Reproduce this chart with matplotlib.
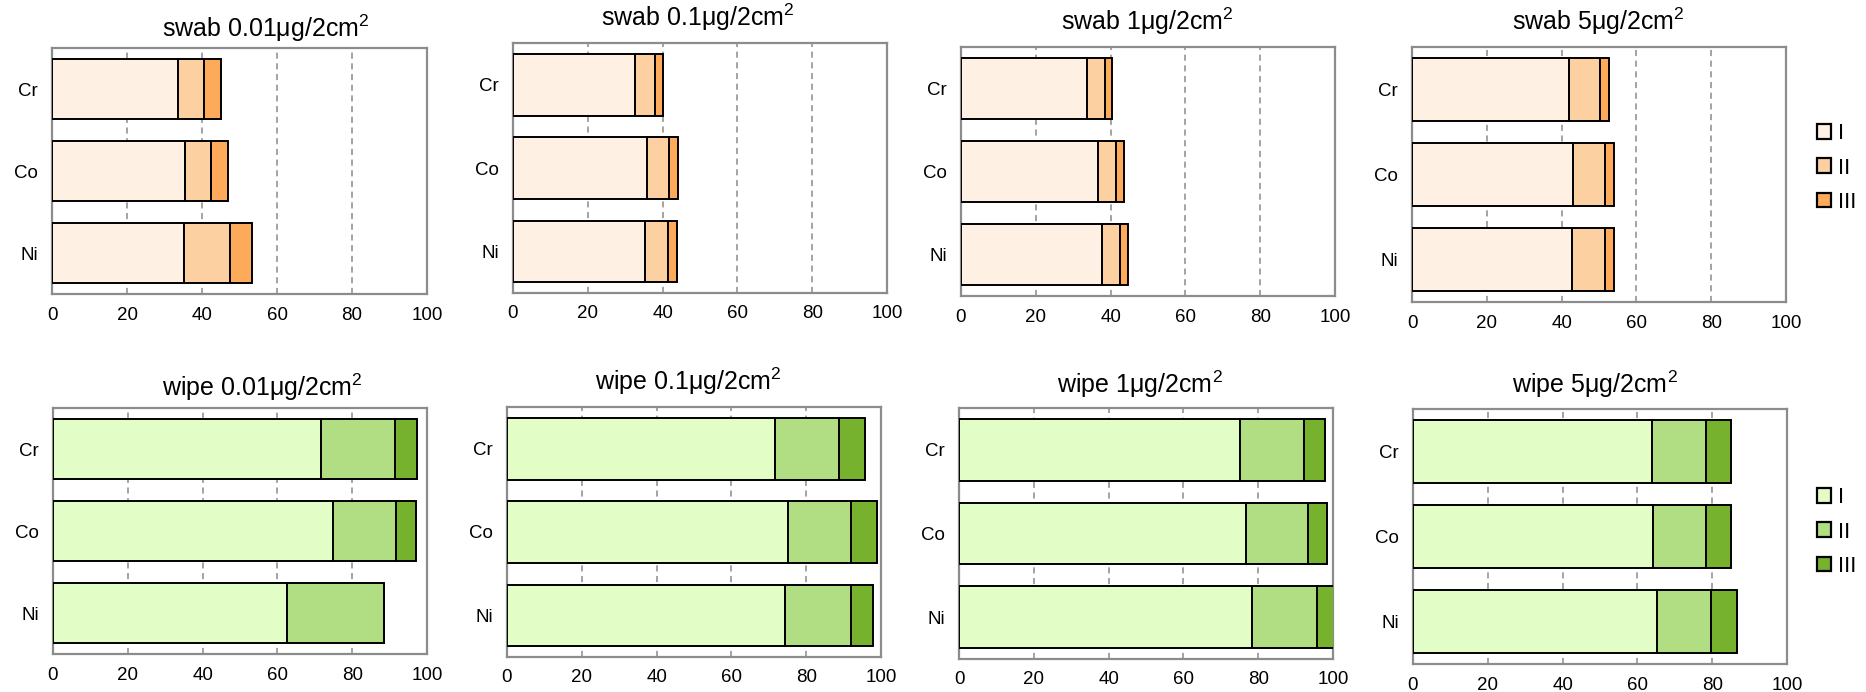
import numpy as np
import matplotlib
matplotlib.use("Agg")
import matplotlib.pyplot as plt
from matplotlib.patches import Patch

plt.rcParams['font.family'] = ['Liberation Sans', 'DejaVu Sans']
plt.rcParams['mathtext.fontset'] = 'custom'
plt.rcParams['mathtext.rm'] = 'Liberation Sans'
plt.rcParams['mathtext.it'] = 'Liberation Sans'

# Data (percent), rows: Cr, Co, Ni
metals = ['Cr', 'Co', 'Ni']
fractions = ['I', 'II', 'III']
titles = ['swab 0.01μg/2cm$^{2}$', 'swab 0.1μg/2cm$^{2}$', 'swab 1μg/2cm$^{2}$', 'swab 5μg/2cm$^{2}$',
          'wipe 0.01μg/2cm$^{2}$', 'wipe 0.1μg/2cm$^{2}$', 'wipe 1μg/2cm$^{2}$', 'wipe 5μg/2cm$^{2}$']

swab_001_I = [33.7, 35.4, 35.2]
swab_001_II = [6.9, 6.9, 12.3]
swab_001_III = [4.4, 4.6, 5.7]

swab_01_I = [32.7, 35.9, 35.4]
swab_01_II = [5.2, 5.7, 6.0]
swab_01_III = [2.1, 2.4, 2.4]

swab_1_I = [33.8, 36.6, 37.6]
swab_1_II = [4.6, 4.8, 4.9]
swab_1_III = [2.1, 2.1, 2.1]

swab_5_I = [42.1, 43.0, 42.8]
swab_5_II = [8.2, 8.5, 8.7]
swab_5_III = [2.3, 2.6, 2.6]

wipe_001_I = [71.7, 74.9, 62.7]
wipe_001_II = [19.7, 16.7, 25.7]
wipe_001_III = [5.9, 5.5, 0.0]

wipe_01_I = [71.7, 75.0, 74.4]
wipe_01_II = [17.0, 16.9, 17.5]
wipe_01_III = [7.1, 7.0, 6.0]

wipe_1_I = [75.2, 76.8, 78.4]
wipe_1_II = [17.1, 16.4, 17.2]
wipe_1_III = [5.6, 5.1, 4.6]

wipe_5_I = [63.8, 64.1, 65.2]
wipe_5_II = [14.5, 14.2, 14.4]
wipe_5_III = [6.8, 6.8, 6.9]

panels = [
    (swab_001_I, swab_001_II, swab_001_III),
    (swab_01_I, swab_01_II, swab_01_III),
    (swab_1_I, swab_1_II, swab_1_III),
    (swab_5_I, swab_5_II, swab_5_III),
    (wipe_001_I, wipe_001_II, wipe_001_III),
    (wipe_01_I, wipe_01_II, wipe_01_III),
    (wipe_1_I, wipe_1_II, wipe_1_III),
    (wipe_5_I, wipe_5_II, wipe_5_III),
]

swab_colors = ['#fef0e2', '#fdd0a2', '#fdab5a']
wipe_colors = ['#e2fdc5', '#b2de83', '#77b22f']

# axes boxes in pixels: left, top, right, bottom
W, H = 1866, 692
boxes = [(52, 48, 427, 294), (513, 43, 887, 293), (961, 47, 1335, 296), (1412, 47, 1786, 302),
         (53, 408, 427, 654), (507, 407, 881, 657), (959, 408, 1333, 659), (1413, 409, 1787, 664)]
# title anchor (center x, baseline y) in pixels
title_pos = [(266, 37), (698, 26), (1147, 30), (1598, 30),
             (262, 396), (688, 390), (1140, 393), (1595, 393)]

fig = plt.figure(figsize=(W / 100, H / 100), dpi=100)

y = np.arange(len(metals))
for i, (vals, box) in enumerate(zip(panels, boxes)):
    l, t, r, b = box
    ax = fig.add_axes([l / W, 1 - b / H, (r - l) / W, (b - t) / H])
    colors = swab_colors if i < 4 else wipe_colors
    left = np.zeros(len(metals))
    for seg, c in zip(vals, colors):
        seg = np.array(seg)
        ax.barh(y, seg, left=left, height=0.74, color=c, edgecolor='black', linewidth=1.4, zorder=3)
        left = left + seg
    ax.set_xlim(0, 100)
    ax.set_ylim(2.5, -0.5)
    ax.set_yticks(y)
    ax.set_yticklabels(metals)
    ax.set_xticks([0, 20, 40, 60, 80, 100])
    ax.tick_params(length=0, labelsize=13.5)
    ax.tick_params(axis='x', pad=9)
    ax.tick_params(axis='y', pad=10)
    ax.xaxis.grid(True, linestyle=(0, (4, 3)), color='#8a8a8a', linewidth=1.1)
    ax.set_axisbelow(True)
    for s in ax.spines.values():
        s.set_color('#8c8c8c')
        s.set_linewidth(1.6)
    tx, ty = title_pos[i]
    fig.text(tx / W, 1 - ty / H, titles[i], ha='center', va='baseline', fontsize=18)

for colors, yc in [(swab_colors, 168), (wipe_colors, 532)]:
    handles = [Patch(facecolor=c, edgecolor='black', linewidth=1.6, label=f) for c, f in zip(colors, fractions)]
    fig.legend(handles=handles, loc='center left', bbox_to_anchor=(1817 / W, 1 - yc / H),
               frameon=False, fontsize=16, handlelength=0.65, handleheight=0.65,
               handletextpad=0.3, labelspacing=0.6, borderpad=0, borderaxespad=0)

fig.savefig('out.png', dpi=100)
